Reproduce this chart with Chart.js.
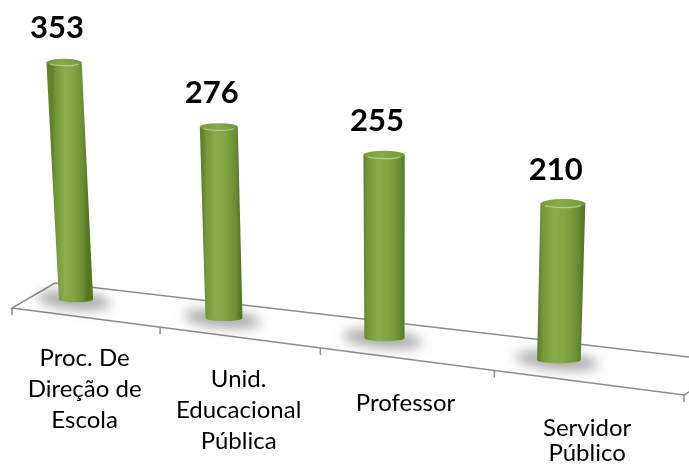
<!DOCTYPE html>
<html>
<head>
<meta charset="utf-8">
<script src="https://cdn.jsdelivr.net/npm/chart.js@4/dist/chart.umd.min.js"></script>
<style>
  html, body { margin: 0; padding: 0; background: #fff; }
  #wrap { width: 689px; height: 464px; }
</style>
</head>
<body>
<div id="wrap"><canvas id="chart"></canvas></div>
<script>
const categories = [
  ["Proc. De", "Direção de", "Escola"],
  ["Unid.", "Educacional", "Pública"],
  ["Professor"],
  ["Servidor", "Público"],
];
const values = [353, 276, 255, 210];
const yMax = 400;

// perspective of the plane the columns stand in (s,t in 0..1 of the chart area -> px)
const persp = { a0: 6.2, a1: 546.6, a2: -15.9, b0: 290.7, b1: 24.2, b2: -266, g: -0.152, h: -0.04 };

function project(s, t) {
  const w = 1 + persp.g * s + persp.h * t;
  return {
    x: (persp.a0 + persp.a1 * s + persp.a2 * t) / w,
    y: (persp.b0 + persp.b1 * s + persp.b2 * t) / w,
  };
}

// floor edges, same vanishing as the columns
const floorFront = { x0: 12, x1: 684, y0: 308, slope: 0.1295 };
const floorBack = { x0: 55, x1: 736, y0: 283, slope: 0.1167 };

function edgePoint(e, s) {
  const g = persp.g;
  const c = e.x1 * (1 + g) - e.x0;
  const x = (e.x0 + c * s) / (1 + g * s);
  return { x: x, y: e.y0 + (x - e.x0) * e.slope };
}

function toST(chart, x, y) {
  const a = chart.chartArea;
  return {
    s: (x - a.left) / (a.right - a.left),
    t: (a.bottom - y) / (a.bottom - a.top),
  };
}

function drawFloor(ctx) {
  const fl = edgePoint(floorFront, 0), fr = edgePoint(floorFront, 1);
  const bl = edgePoint(floorBack, 0), br = edgePoint(floorBack, 1);
  ctx.save();
  ctx.beginPath();
  ctx.moveTo(fl.x, fl.y);
  ctx.lineTo(fr.x, fr.y);
  ctx.lineTo(br.x, br.y);
  ctx.lineTo(bl.x, bl.y);
  ctx.closePath();
  ctx.fillStyle = "#ffffff";
  ctx.fill();
  ctx.strokeStyle = "#8c8c8c";
  ctx.lineWidth = 1.5;
  ctx.stroke();
  // category ticks on the front edge
  for (let i = 0; i <= categories.length; i++) {
    const p = edgePoint(floorFront, i / categories.length);
    ctx.beginPath();
    ctx.moveTo(p.x, p.y);
    ctx.lineTo(p.x, p.y + 7);
    ctx.stroke();
  }
  ctx.restore();
}

function columnGeom(chart, el) {
  const a = chart.chartArea;
  const st = toST(chart, el.x, el.y);
  const hw = el.width / 2 / (a.right - a.left);
  const b0 = project(st.s - hw, 0), b1 = project(st.s + hw, 0);
  const t0 = project(st.s - hw, st.t), t1 = project(st.s + hw, st.t);
  // keep the end ellipses level
  const by = (b0.y + b1.y) / 2, ty = (t0.y + t1.y) / 2;
  return {
    st,
    bl: { x: b0.x, y: by }, br: { x: b1.x, y: by },
    tl: { x: t0.x, y: ty }, tr: { x: t1.x, y: ty },
  };
}

function drawShadow(ctx, c) {
  const cx = (c.bl.x + c.br.x) / 2, cy = c.bl.y;
  const rx = (c.br.x - c.bl.x) / 2;
  ctx.save();
  ctx.filter = "blur(6px)";
  ctx.fillStyle = "rgba(0,0,0,0.33)";
  ctx.beginPath();
  ctx.ellipse(cx - 2, cy + 1, rx + 20, 9, 0.1, 0, Math.PI * 2);
  ctx.fill();
  ctx.restore();
}

function drawCylinder(ctx, c) {
  const bcx = (c.bl.x + c.br.x) / 2, bcy = c.bl.y;
  const brx = (c.br.x - c.bl.x) / 2;
  const tcx = (c.tl.x + c.tr.x) / 2, tcy = c.tl.y;
  const trx = (c.tr.x - c.tl.x) / 2;

  const ml = { x: (c.tl.x + c.bl.x) / 2, y: (c.tl.y + c.bl.y) / 2 };
  const mr = { x: (c.tr.x + c.br.x) / 2, y: (c.tr.y + c.br.y) / 2 };
  const body = ctx.createLinearGradient(ml.x, ml.y, mr.x, ml.y);
  body.addColorStop(0, "#62822c");
  body.addColorStop(0.1, "#779939");
  body.addColorStop(0.35, "#8aac4b");
  body.addColorStop(0.6, "#83a443");
  body.addColorStop(0.88, "#6c8c31");
  body.addColorStop(1, "#587524");

  ctx.save();
  ctx.beginPath();
  ctx.moveTo(c.tl.x, c.tl.y);
  ctx.lineTo(c.bl.x, c.bl.y);
  ctx.ellipse(bcx, bcy, brx, brx * 0.17, 0, Math.PI, 0, true);
  ctx.lineTo(c.tr.x, c.tr.y);
  ctx.closePath();
  ctx.fillStyle = body;
  ctx.fill();

  // cap
  const capGrad = ctx.createLinearGradient(c.tl.x, tcy, c.tr.x, tcy);
  capGrad.addColorStop(0, "#7a9a3d");
  capGrad.addColorStop(0.45, "#88a948");
  capGrad.addColorStop(1, "#76963a");
  ctx.beginPath();
  ctx.ellipse(tcx, tcy, trx, trx * 0.2, 0, 0, Math.PI * 2);
  ctx.fillStyle = capGrad;
  ctx.fill();
  ctx.beginPath();
  ctx.ellipse(tcx, tcy + 0.5, trx * 0.9, trx * 0.15, 0, 0.15 * Math.PI, 0.85 * Math.PI);
  ctx.strokeStyle = "rgba(200,222,160,0.7)";
  ctx.lineWidth = 1.2;
  ctx.stroke();
  ctx.restore();
}

const perspectivePlugin = {
  id: "perspective",
  beforeDatasetsDraw(chart) {
    const ctx = chart.ctx;
    drawFloor(ctx);
    const meta = chart.getDatasetMeta(0);
    meta.data.forEach((el) => drawShadow(ctx, columnGeom(chart, el)));
  },
  afterDatasetsDraw(chart) {
    const ctx = chart.ctx;
    const meta = chart.getDatasetMeta(0);
    const xScale = chart.scales.x;
    meta.data.forEach((el, i) => {
      const c = columnGeom(chart, el);
      drawCylinder(ctx, c);

      // value label
      const top = project(c.st.s, c.st.t);
      ctx.save();
      ctx.font = "bold 31px Lato, 'Open Sans', sans-serif";
      ctx.fillStyle = "#000";
      ctx.textAlign = "center";
      ctx.textBaseline = "middle";
      ctx.fillText(String(values[i]), top.x - 7, top.y - 34);
      ctx.restore();

      // category label under the front edge
      const s = toST(chart, xScale.getPixelForValue(i), 0).s;
      const p = edgePoint(floorFront, s);
      const w = 1 + persp.g * s;
      const lines = categories[i];
      const first = p.y + 40 / w;
      let lh = 31;
      if (lines.length > 1 && first + lh * (lines.length - 1) > chart.height - 11) {
        lh = (chart.height - 11 - first) / (lines.length - 1);
      }
      ctx.save();
      ctx.font = "24px Lato, 'Open Sans', sans-serif";
      ctx.fillStyle = "#000";
      ctx.textAlign = "center";
      ctx.textBaseline = "middle";
      lines.forEach((line, k) => ctx.fillText(line, p.x, first + k * lh));
      ctx.restore();
    });
  },
};

new Chart(document.getElementById("chart"), {
  type: "bar",
  data: {
    labels: categories,
    datasets: [
      {
        data: values,
        backgroundColor: "rgba(0,0,0,0)",
        borderWidth: 0,
        categoryPercentage: 0.8,
        barPercentage: 0.3,
      },
    ],
  },
  options: {
    responsive: true,
    maintainAspectRatio: false,
    animation: false,
    events: [],
    layout: { padding: 0 },
    plugins: { legend: { display: false }, tooltip: { enabled: false } },
    scales: {
      x: { display: false },
      y: { display: false, min: 0, max: yMax },
    },
  },
  plugins: [perspectivePlugin],
});
</script>
</body>
</html>
